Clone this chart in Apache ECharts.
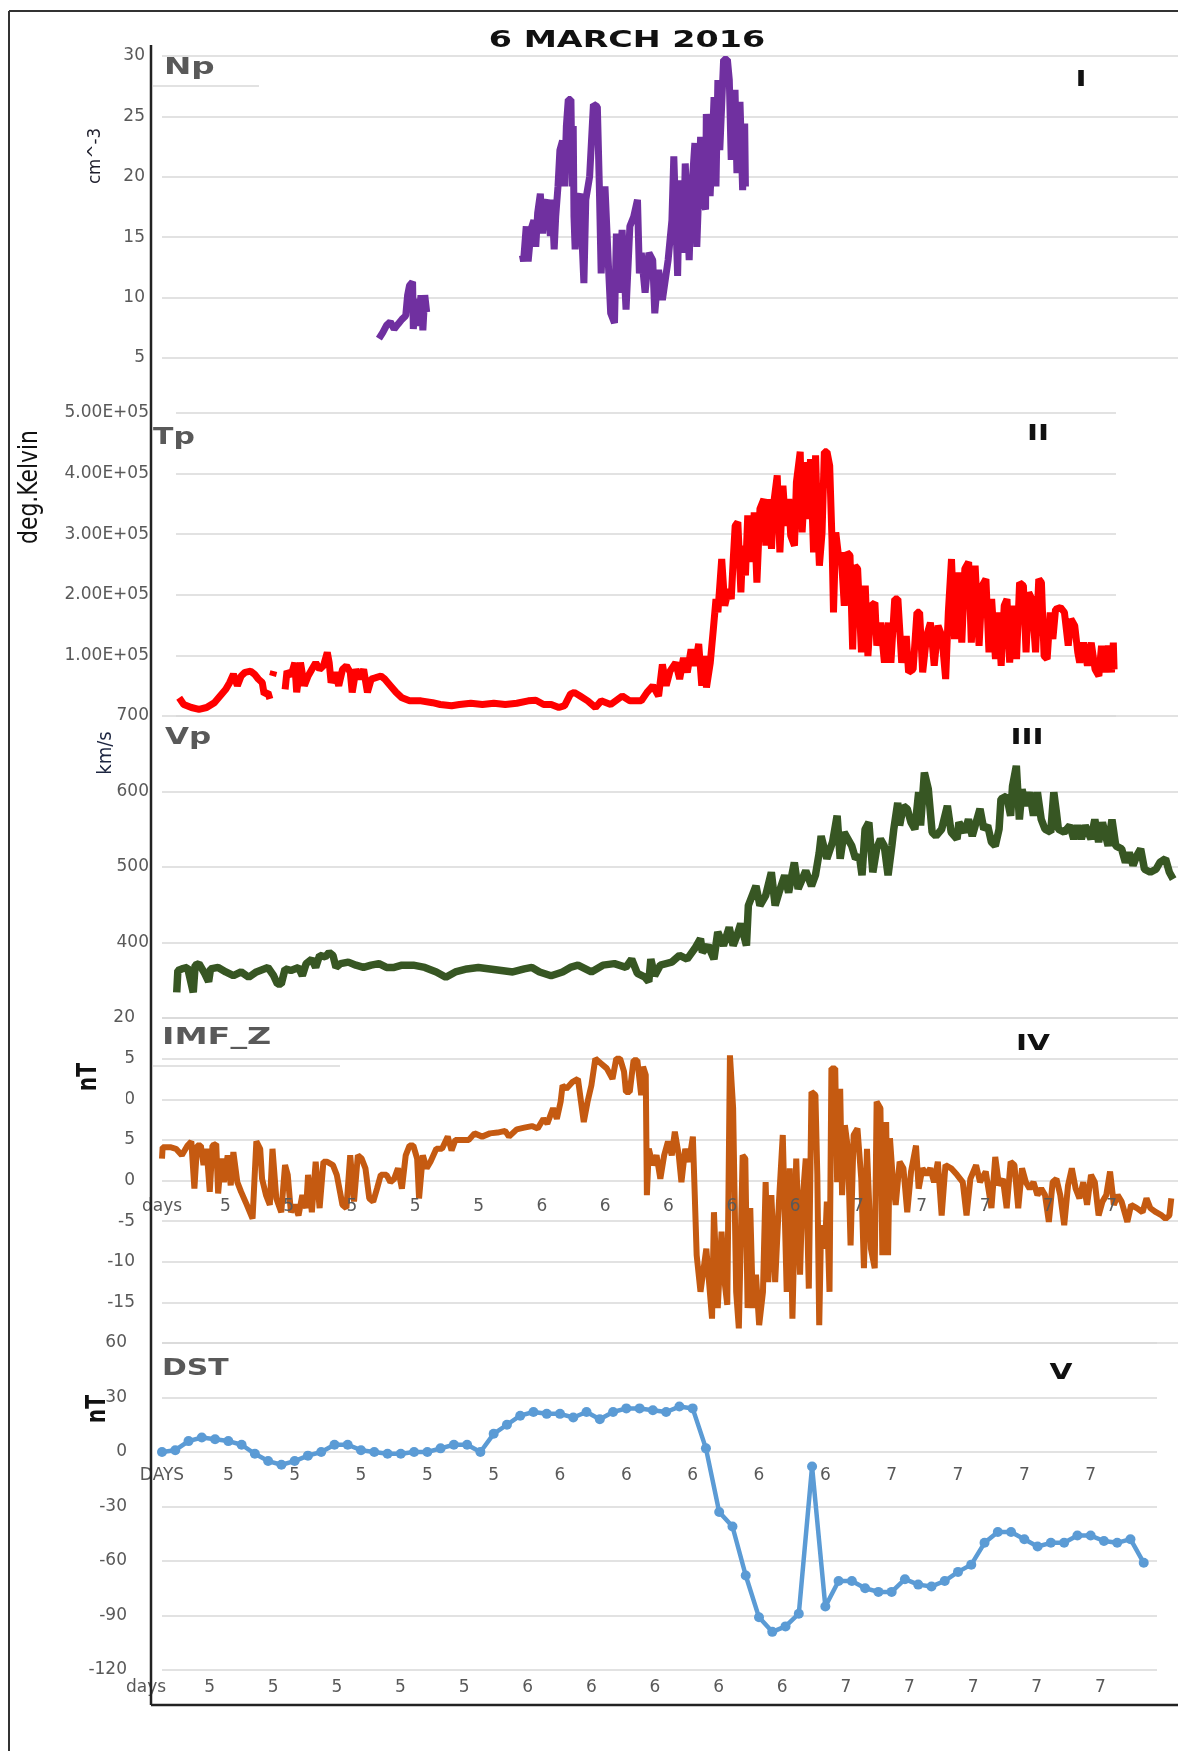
<!DOCTYPE html>
<html><head><meta charset="utf-8">
<script src="https://cdn.jsdelivr.net/npm/echarts@6/dist/echarts.min.js"></script>
<style>html,body{margin:0;padding:0;background:#fff}#c{width:1178px;height:1751px}</style>
</head><body><div id="c"></div>
<script>
// ---------- DATA (x = hours from panel origin, y = measured value) ----------
const chartTitle = '6 MARCH 2016';
const panelNames = ['Np', 'Tp', 'Vp', 'IMF_Z', 'DST'];
const panelNumerals = ['I', 'II', 'III', 'IV', 'V'];
const axisTitles = ['cm^-3', 'deg.Kelvin', 'km/s', 'nT', 'nT'];

// Np (cm^-3)
const npSeg1 = [[17.08,6.6],[17.38,7.1],[17.68,7.7],[17.98,8.0],[18.28,7.4],[18.58,7.8],[18.89,8.2],[19.19,8.5],[19.34,10.2],[19.49,11.0],[19.73,11.3],[19.79,7.4],[19.94,9.9],[20.09,7.7],[20.24,8.2],[20.39,10.2],[20.54,7.3],[20.69,10.2],[20.84,8.8]];
const npSeg2 = [[28.38,13.5],[28.47,13.0],[28.68,15.9],[28.83,13.0],[29.07,15.7],[29.28,16.4],[29.43,14.2],[29.58,17.0],[29.79,18.6],[29.97,15.3],[30.09,17.5],[30.33,18.1],[30.58,15.1],[30.7,18.1],[30.88,14.0],[31.0,16.7],[31.18,19.2],[31.33,22.2],[31.54,23.0],[31.69,19.2],[31.84,24.2],[31.99,26.4],[32.2,26.4],[32.29,19.2],[32.38,24.2],[32.44,16.7],[32.53,14.0],[32.75,18.1],[32.92,18.6],[33.22,11.2],[33.37,18.1],[33.67,20.0],[33.97,26.0],[34.28,25.8],[34.43,19.5],[34.58,12.0],[34.88,19.2],[35.18,12.0],[35.33,8.7],[35.63,7.9],[35.78,15.3],[35.93,10.4],[36.23,15.6],[36.54,9.0],[36.84,15.9],[37.14,16.7],[37.44,18.1],[37.59,12.0],[37.74,13.7],[38.04,10.4],[38.34,13.7],[38.64,13.1],[38.8,8.7],[39.1,12.3],[39.4,9.8],[39.85,13.1],[40.15,16.4],[40.3,21.7],[40.6,11.8],[40.75,19.7],[41.05,13.7],[41.2,21.1],[41.51,13.1],[41.66,18.1],[41.96,22.8],[42.11,14.2],[42.41,23.3],[42.56,18.1],[42.8,17.3],[42.86,25.2],[43.16,18.4],[43.47,26.6],[43.62,19.2],[43.77,28.0],[43.92,22.2],[44.22,29.7],[44.52,29.7],[44.67,28.0],[44.82,21.4],[45.12,27.2],[45.27,20.3],[45.51,26.2],[45.72,18.9],[45.88,24.4],[45.94,19.2]];

// Tp in units of 1e5 K ('-' = data gap)
const tpE5 = [[0.25,0.30],[0.61,0.19],[1.21,0.14],[1.81,0.11],[2.41,0.14],[3.02,0.22],[3.47,0.33],[3.92,0.44],[4.22,0.55],[4.52,0.69],[4.83,0.5],[5.13,0.66],[5.43,0.72],[5.88,0.74],[6.18,0.69],[6.48,0.61],[6.79,0.55],[6.94,0.36],[7.24,0.39],[7.39,0.28],[7.5,'-'],[7.6,0.66],[7.7,0.74],[8.0,'-'],[8.59,0.44],[8.74,0.74],[9.05,0.66],[9.35,0.88],[9.5,0.39],[9.8,0.88],[10.1,0.5],[10.4,0.66],[10.7,0.77],[11.0,0.88],[11.3,0.77],[11.61,0.83],[11.91,1.05],[12.06,0.88],[12.21,0.55],[12.51,0.72],[12.81,0.5],[13.11,0.77],[13.42,0.83],[13.72,0.72],[13.87,0.39],[14.17,0.77],[14.47,0.61],[14.77,0.77],[15.07,0.39],[15.37,0.61],[15.68,0.63],[16.13,0.66],[16.43,0.61],[16.88,0.5],[17.33,0.39],[17.79,0.30],[18.39,0.25],[19.29,0.25],[20.2,0.22],[20.8,0.19],[21.7,0.17],[22.31,0.19],[23.21,0.21],[24.12,0.19],[25.02,0.21],[25.92,0.19],[26.83,0.21],[27.73,0.25],[28.33,0.26],[28.94,0.19],[29.54,0.19],[30.14,0.14],[30.59,0.17],[31.05,0.36],[31.35,0.39],
[31.81,0.33],[32.41,0.25],[33.02,0.14],[33.47,0.25],[34.22,0.19],[35.13,0.33],[35.73,0.25],[36.63,0.25],[37.08,0.39],[37.54,0.5],[37.99,0.33],[38.29,0.85],[38.59,0.5],[38.89,0.74],[39.34,0.88],[39.65,0.61],[39.95,0.96],[40.25,0.72],[40.55,1.1],[40.85,0.83],[41.15,1.19],[41.39,0.5],[41.61,0.99],[41.76,0.47],[42.06,0.88],[42.3,1.43],[42.51,1.93],[42.66,1.71],[42.96,2.59],[43.2,1.82],[43.5,2.09],[43.71,1.93],[43.87,2.59],[44.02,3.14],[44.23,3.2],[44.47,2.04],[44.62,2.81],[44.83,2.32],[45.01,3.31],[45.31,2.54],[45.52,3.36],[45.73,2.2],[45.97,3.42],[46.28,3.58],[46.43,2.81],[46.58,3.58],[46.88,2.76],[47.03,3.47],[47.33,3.97],[47.54,2.7],[47.78,3.8],[47.99,3.14],[48.24,3.58],[48.39,2.98],[48.69,2.81],[48.84,3.86],[49.14,4.36],[49.29,3.03],[49.59,4.19],[49.74,3.25],[49.95,4.24],[50.19,2.7],[50.35,4.3],[50.5,3.25],[50.65,2.48],[50.86,3.03],[51.04,4.36],[51.25,4.36],[51.46,4.13],[51.64,2.92],[51.76,1.71],[51.94,3.03],[52.15,2.65],[52.36,2.7],[52.61,1.82],[52.82,2.7],[53.06,2.65],[53.27,1.1],[53.45,2.48],[53.66,2.43],[53.96,1.05],[54.26,2.15],[54.47,0.99],[54.72,1.82],[55.02,1.87],[55.17,1.16],[55.47,1.54],[55.77,0.88],[56.07,1.54],[56.28,0.88],[56.58,1.93],[56.83,1.93],[57.13,0.88],[57.49,1.32],[57.67,0.72],[58.03,0.77],[58.33,1.71],[58.54,1.71],[58.78,0.72],[59.09,1.32],[59.39,1.54],[59.69,0.83],[59.99,1.49],[60.29,1.32],[60.59,0.61],[60.8,1.71],[61.05,2.59],[61.29,1.27],[61.59,2.37],[61.86,1.21],[62.1,2.43],[62.4,2.54],[62.61,1.21],[62.91,2.48],[63.22,1.16],[63.46,2.15],[63.76,2.26],[64.0,1.05],[64.21,1.93],[64.51,0.94],[64.72,1.71],[64.96,0.83],[65.2,1.82],[65.42,1.93],[65.63,0.88],[65.87,1.82],[66.17,0.94],[66.41,2.2],[66.71,2.15],[66.92,1.05],[67.13,2.04],[67.37,1.93],[67.67,1.05],[67.92,2.26],[68.13,2.2],[68.34,0.99],[68.58,0.94],[68.82,1.71],[69.03,1.27],[69.24,1.76],[69.63,1.79],[69.94,1.71],[70.24,1.16],[70.45,1.6],[70.75,1.49],[70.99,1.05],[71.14,0.88],[71.44,1.21],[71.75,0.83],[72.05,1.21],[72.35,0.77],[72.65,0.66],[72.86,1.16],[73.16,0.72],[73.4,1.16],[73.64,0.72],[73.79,1.21],[73.85,0.77]];

// Vp (km/s)
const vp = [[1.16,334],[1.25,363],[1.56,365],[2.01,367],[2.46,334],[2.61,370],[2.91,372],[3.36,359],[3.67,348],[3.82,365],[4.42,367],[5.02,361],[5.62,356],[6.23,361],[6.83,354],[7.43,361],[8.34,367],[8.79,356],[9.09,345],[9.39,345],[9.69,365],[10.15,363],[10.75,367],[11.05,356],[11.35,372],[11.8,378],[12.1,367],[12.41,383],[12.86,381],[13.16,387],[13.46,383],[13.7,367],[14.06,372],[14.67,374],[15.27,370],[15.87,367],[16.47,370],[17.08,372],[17.68,367],[18.28,367],[18.89,370],[19.79,370],[20.69,367],[21.6,361],[22.35,354],[23.1,361],[24.01,365],[24.91,367],[25.82,365],[26.72,363],[27.62,361],[28.53,365],[29.13,367],[29.73,361],[30.64,356],[31.54,361],[32.15,367],[32.75,370],
[33.81,361],[34.72,370],[35.62,372],[36.53,367],[36.98,378],[37.43,359],[38.03,354],[38.33,348],[38.49,378],[38.79,356],[39.24,370],[40.14,374],[40.75,383],[41.35,378],[41.95,392],[42.4,405],[42.55,387],[43.01,396],[43.46,378],[43.76,414],[44.21,396],[44.66,420],[44.97,396],[45.27,409],[45.57,425],[46.02,396],[46.17,449],[46.77,475],[47.08,449],[47.53,462],[47.98,493],[48.28,449],[48.58,466],[49.03,489],[49.34,466],[49.64,493],[49.79,506],[50.09,471],[50.69,495],[51.14,475],[51.45,489],[51.75,519],[51.9,541],[52.35,511],[52.8,533],[53.16,568],[53.4,511],[53.71,546],[54.01,537],[54.31,528],[54.61,511],[54.91,515],[55.12,489],[55.36,550],[55.66,559],[55.97,493],[56.27,524],[56.57,537],[56.87,528],[57.17,489],[57.47,528],[57.62,550],[57.93,585],[58.08,555],[58.38,581],[58.68,577],[58.98,559],[59.28,550],[59.58,599],[59.73,555],[60.03,625],[60.34,603],[60.64,546],[60.94,541],[61.39,550],[61.84,581],[62.14,546],[62.6,537],[62.75,559],[63.2,546],[63.5,563],[63.8,541],[64.1,559],[64.41,577],[64.71,550],[65.01,555],[65.31,533],[65.61,528],[65.91,550],[66.06,590],[66.51,594],[66.82,568],[66.97,607],[67.27,634],[67.51,563],[67.72,603],[68.02,581],[68.32,599],[68.62,568],[68.93,599],[69.23,563],[69.53,550],[69.98,546],[70.22,599],[70.43,572],[70.58,550],[71.04,546],[71.49,555],[71.79,537],[72.09,555],[72.39,537],[72.69,555],[73.15,537],[73.45,563],[73.75,533],[74.05,559],[74.5,528],[74.8,563],[75.1,528],[75.56,524],[75.86,506],[76.16,519],[76.46,502],[76.76,515],[77.06,524],[77.36,497],[77.82,493],[78.27,497],[78.57,506],[79.02,511],[79.32,493],[79.62,484]];

// IMF Bz (nT)
const imfZ = [[0,2.7],[0.05,4.1],[0.2,3.9],[0.65,4.1],[1.1,3.9],[1.56,3.1],[2.01,4.3],[2.31,4.8],[2.55,-1.0],[2.76,4.3],[3.06,4.3],[3.27,1.9],[3.51,3.9],[3.76,-1.4],[3.97,4.3],[4.27,4.5],[4.42,-1.6],[4.66,2.7],[4.87,-0.2],[5.17,3.1],[5.41,-0.6],[5.62,3.5],[5.93,-0.2],[6.23,-1.4],[6.68,-3.0],[7.13,-4.7],[7.43,4.8],[7.73,3.9],[7.88,0.2],[8.19,-1.8],[8.49,-3.0],[8.7,3.9],[9.0,-2.2],[9.39,-3.9],[9.69,1.9],[9.9,0.7],[10.15,-3.9],[10.45,-3.0],[10.75,-4.3],[11.05,-1.8],[11.35,-3.4],[11.5,0.7],[11.8,-3.9],[12.1,2.3],[12.41,-3.4],[12.71,2.3],[13.01,2.3],[13.46,1.9],[13.76,0.7],[14.21,-3.0],[14.52,-3.4],[14.82,3.1],[15.12,-2.6],[15.42,3.1],[15.72,2.7],[16.02,1.5],[16.32,-2.2],[16.63,-2.6],[16.93,-1.0],[17.23,0.7],[17.68,0.7],[17.98,-0.2],[18.28,0.2],[18.58,1.5],[18.89,-1.0],[19.19,3.1],[19.49,4.3],[19.79,4.3],[20.09,2.7],[20.24,-2.2],[20.54,3.1],[20.84,1.5],[21.14,2.3],[21.6,3.9],[22.05,3.9],[22.5,5.4],[22.8,3.7],[23.1,5.0],[23.71,5.0],[24.16,5.0],[24.61,5.8],[25.21,5.4],[25.82,5.8],[26.42,5.9],[27.02,6.1],[27.32,5.4],[27.93,6.3],[28.53,6.5],[29.13,6.7],[29.58,6.4],[30.04,7.6],[30.34,7.0],[30.79,8.9],[31.09,7.6],[31.39,9.7],[31.54,11.7],[31.84,11.3],[32.3,12.1],[32.75,12.5],
[33.21,7.2],[33.51,9.7],[33.81,11.7],[34.12,15.0],[34.57,14.4],[35.02,13.8],[35.47,12.5],[35.77,15.0],[36.07,15.0],[36.38,13.4],[36.53,10.9],[36.83,10.9],[37.13,14.8],[37.43,14.8],[37.73,10.5],[37.88,14.0],[38.09,13.0],[38.18,-1.8],[38.33,3.9],[38.64,1.9],[38.94,3.1],[39.24,0.2],[39.54,3.1],[39.84,4.8],[40.14,3.1],[40.38,6.0],[40.69,3.1],[40.9,-0.2],[41.2,3.9],[41.5,2.3],[41.8,5.4],[41.95,-1.8],[42.1,-9.2],[42.4,-13.7],[42.86,-8.4],[43.31,-17.0],[43.46,-3.9],[43.76,-15.7],[44.06,-6.3],[44.3,-12.5],[44.51,-15.3],[44.72,15.4],[44.97,8.9],[45.21,-13.7],[45.42,-18.2],[45.72,3.1],[45.93,2.7],[46.11,-15.7],[46.32,-3.4],[46.53,-15.7],[46.77,-11.6],[47.02,-17.8],[47.32,-13.7],[47.53,-0.2],[47.74,-12.5],[47.98,-1.8],[48.28,-12.5],[48.58,-2.6],[48.88,5.6],[49.19,-13.7],[49.43,1.5],[49.64,-17.0],[49.94,2.7],[50.24,-11.6],[50.39,-3.4],[50.69,2.7],[50.93,-13.3],[51.14,10.9],[51.45,10.5],[51.6,0.7],[51.75,-17.8],[51.9,-5.5],[52.2,-8.4],[52.35,-2.6],[52.56,-13.7],[52.71,13.8],[53.01,13.8],[53.16,-0.2],[53.4,11.3],[53.55,-1.8],[53.77,6.8],[54.01,3.9],[54.22,-8.0],[54.46,5.6],[54.76,6.4],[55.06,0.2],[55.27,-10.8],[55.51,3.9],[55.82,-8.4],[56.12,-10.8],[56.27,9.7],[56.57,8.9],[56.72,-9.2],[57.02,7.2],[57.17,-9.2],[57.32,5.2],[57.56,-0.2],[57.77,-3.0],[58.08,2.3],[58.38,1.5],[58.68,-3.9],[58.98,1.1],[59.37,4.3],[59.58,-1.0],[59.88,1.5],[60.19,0.7],[60.49,1.5],[60.79,-0.2],[61.09,2.3],[61.39,-4.3],[61.69,1.9],[62.14,1.5],[62.6,0.7],[63.05,-0.2],[63.35,-4.3],[63.65,0.2],[64.1,1.9],[64.41,-0.2],[64.86,1.1],[65.31,-3.4],[65.61,2.9],[65.91,-0.6],[66.21,0.2],[66.51,-3.4],[66.82,2.3],[67.12,1.9],[67.42,-3.4],[67.72,1.5],[68.02,-0.2],[68.32,-1.0],[68.62,-0.2],[68.93,-1.8],[69.23,-1.0],[69.53,-1.8],[69.83,-5.1],[70.13,-0.2],[70.43,0.2],[70.73,-1.8],[71.04,-5.5],[71.34,-0.6],[71.64,1.5],[71.94,-1.0],[72.24,-2.2],[72.54,-0.2],[72.84,-3.0],[73.15,0.7],[73.45,-0.2],[73.75,-4.3],[74.05,-2.6],[74.35,-1.8],[74.65,1.1],[74.95,-3.0],[75.25,-1.8],[75.56,-2.6],[76.01,-5.1],[76.31,-3.0],[76.76,-3.4],[77.21,-3.9],[77.52,-2.2],[77.82,-3.4],[78.27,-3.9],[78.72,-4.3],[79.02,-4.7],[79.32,-4.3],[79.47,-2.2]];

// Dst hourly (nT)
const dstValues = [0,1,6,8,7,6,4,-1,-5,-7,-5,-2,0,4,4,1,0,-1,-1,0,0,2,4,4,0,10,15,20,22,21,21,19,22,18,22,24,24,23,22,25,24,2,-33,-41,-68,-91,-99,-96,-89,-8,-85,-71,-71,-75,-77,-77,-70,-73,-74,-71,-66,-62,-50,-44,-44,-48,-52,-50,-50,-46,-46,-49,-50,-48,-61];

// tick labels
const imfDayLabels = ['days','5','5','5','5','5','6','6','6','6','6','7','7','7','7','7'];
const dstTopLabels = ['DAYS','5','5','5','5','5','6','6','6','6','6','7','7','7','7'];
const bottomDayLabels = ['days','5','5','5','5','5','6','6','6','6','6','7','7','7','7','7'];

// ---------- CHART ----------
const FONT = 'DejaVu Sans';
const GREY = '#595959';
const GRIDC = '#D9D9D9';
const LABEL_FS = 17;

// panel geometry (px)
const P = {
  np:  { left: 162, right: 0,  top: 56,   height: 302 },
  tp:  { left: 176, right: 62, top: 413,  height: 303 },
  vp:  { left: 162, right: 0,  top: 716,  height: 302 },
  imf: { left: 162, right: 0,  top: 1018, height: 325 },
  dst: { left: 162, right: 21, top: 1343, height: 327 }
};
// y of the zero line inside IMF (-20..20) and DST (-120..60) panels
const imfZeroY = P.imf.top + P.imf.height * (20 / 40);
const dstZeroY = P.dst.top + P.dst.height * (60 / 180);

function yAx(gi, min, max, interval, margin, fmt) {
  return {
    type: 'value', gridIndex: gi, min, max, interval,
    axisLine: { show: false }, axisTick: { show: false },
    axisLabel: { margin, color: GREY, fontSize: LABEL_FS, fontFamily: FONT, formatter: fmt },
    splitLine: { lineStyle: { color: GRIDC, width: 1.5 } }
  };
}
function yHidden(gi) { return { type: 'value', gridIndex: gi, min: 0, max: 1, show: false }; }
function xHidden(gi, max) {
  return { type: 'value', gridIndex: gi, min: 0, max, show: false, splitLine: { show: false } };
}
function xLabelled(gi, max, labels, margin) {
  return {
    type: 'value', gridIndex: gi, min: 0, max, interval: 5, position: 'bottom', z: 10,
    axisLine: { show: false, onZero: false }, axisTick: { show: false },
    splitLine: { show: false },
    axisLabel: { margin, color: GREY, fontSize: LABEL_FS, fontFamily: FONT,
      formatter: v => { const k = Math.round(v / 5); return labels[k] !== undefined ? labels[k] : ''; } }
  };
}
function lineSeries(xi, data, color, width) {
  return { type: 'line', xAxisIndex: xi, yAxisIndex: xi, data, showSymbol: false,
    lineStyle: { color, width }, itemStyle: { color }, connectNulls: false, z: 3 };
}
function txt(text, x, y, opts) {
  return Object.assign({ type: 'text', x, y, z: 60,
    style: Object.assign({ text, fontFamily: FONT, align: 'center', verticalAlign: 'middle' }, opts.style || {}) },
    opts.el || {});
}
function ln(x1, y1, x2, y2, color, w) {
  return { type: 'line', z: 50, shape: { x1, y1, x2, y2 }, style: { stroke: color, lineWidth: w } };
}

const option = {
  animation: false,
  backgroundColor: '#ffffff',
  grid: [
    P.np, P.tp, P.vp, P.imf, P.dst,
    // label-only strips: bottom day axis, IMF zero-line labels, DST zero-line labels
    { left: 146, right: 14, top: 1640, height: 30 },
    { left: P.imf.left, right: P.imf.right, top: imfZeroY - 10, height: 10 },
    { left: P.dst.left, right: P.dst.right, top: dstZeroY - 10, height: 10 }
  ],
  xAxis: [
    xHidden(0, 80), xHidden(1, 74), xHidden(2, 80), xHidden(3, 80), xHidden(4, 75),
    xLabelled(5, 80, bottomDayLabels, 9),
    xLabelled(6, 80, imfDayLabels, 18),
    xLabelled(7, 75, dstTopLabels, 15)
  ],
  yAxis: [
    yAx(0, 5, 30, 5, 17, v => String(v)),
    yAx(1, 0, 5, 1, 27, v => v === 0 ? '' : v.toFixed(2) + 'E+05'),
    yAx(2, 300, 700, 100, 13, v => v === 300 ? '' : String(v)),
    yAx(3, -20, 20, 5, 27, v => v === -20 ? '' : String(v)),
    yAx(4, -120, 60, 30, 35, v => String(v)),
    yHidden(5), yHidden(6), yHidden(7)
  ],
  series: [
    lineSeries(0, npSeg1, '#7030A0', 7),
    lineSeries(0, npSeg2, '#7030A0', 7),
    lineSeries(1, tpE5, '#FF0000', 7),
    lineSeries(2, vp, '#375623', 7.5),
    lineSeries(3, imfZ, '#C55A11', 6),
    { type: 'line', xAxisIndex: 4, yAxisIndex: 4, data: dstValues.map((v, i) => [i, v]),
      symbol: 'circle', symbolSize: 10, showSymbol: true, showAllSymbol: true,
      lineStyle: { color: '#5B9BD5', width: 4.5 }, itemStyle: { color: '#5B9BD5' }, z: 3 }
  ],
  graphic: [
    // frames
    ln(9, 11, 9, 1751, '#333', 2),
    ln(9, 11, 1178, 11, '#333', 2),
    ln(151, 45, 151, 1705, '#222', 2.5),
    ln(151, 1705, 1178, 1705, '#222', 2.5),
    ln(153, 86, 259, 86, GRIDC, 1.5),
    ln(153, 1066, 340, 1066, GRIDC, 1.5),
    // cover of the partially hidden IMF tick labels (as in the reference)
    { type: 'rect', z: 100, shape: { x: 109, y: 1049, width: 17, height: 55 }, style: { fill: '#fff' } },
    // title
    txt(chartTitle, 627, 41, { style: { fontSize: 23, fontWeight: 'bold', fill: '#111' }, el: { scaleX: 1.45 } }),
    // panel names
    txt(panelNames[0], 164, 68, { style: { fontSize: 23, fontWeight: 'bold', fill: GREY, align: 'left' }, el: { scaleX: 1.42 } }),
    txt(panelNames[1], 153, 438, { style: { fontSize: 23, fontWeight: 'bold', fill: GREY, align: 'left' }, el: { scaleX: 1.3 } }),
    txt(panelNames[2], 165, 738, { style: { fontSize: 23, fontWeight: 'bold', fill: GREY, align: 'left' }, el: { scaleX: 1.35 } }),
    txt(panelNames[3], 162, 1038, { style: { fontSize: 23, fontWeight: 'bold', fill: GREY, align: 'left' }, el: { scaleX: 1.45 } }),
    txt(panelNames[4], 162, 1369, { style: { fontSize: 23, fontWeight: 'bold', fill: GREY, align: 'left' }, el: { scaleX: 1.3 } }),
    // numerals
    txt(panelNumerals[0], 1081, 80, { style: { fontSize: 22, fontWeight: 'bold', fill: '#111' }, el: { scaleX: 1.35 } }),
    txt(panelNumerals[1], 1038, 434, { style: { fontSize: 22, fontWeight: 'bold', fill: '#111' }, el: { scaleX: 1.35 } }),
    txt(panelNumerals[2], 1027, 738, { style: { fontSize: 22, fontWeight: 'bold', fill: '#111' }, el: { scaleX: 1.35 } }),
    txt(panelNumerals[3], 1033, 1044, { style: { fontSize: 22, fontWeight: 'bold', fill: '#111' }, el: { scaleX: 1.35 } }),
    txt(panelNumerals[4], 1061, 1373, { style: { fontSize: 22, fontWeight: 'bold', fill: '#111' }, el: { scaleX: 1.35 } }),
    // axis titles (rotated)
    txt(axisTitles[0], 95, 156, { style: { fontSize: 18, fill: '#1c1c2a' }, el: { rotation: Math.PI / 2, scaleX: 0.93 } }),
    txt(axisTitles[1], 30, 487, { style: { fontSize: 27, fill: '#111' }, el: { rotation: Math.PI / 2, scaleX: 0.81 } }),
    txt(axisTitles[2], 106, 753, { style: { fontSize: 19, fill: '#1c2540' }, el: { rotation: Math.PI / 2, scaleX: 0.95 } }),
    txt(axisTitles[3], 89, 1077, { style: { fontSize: 26, fontWeight: 'bold', fill: '#111' }, el: { rotation: Math.PI / 2, scaleX: 0.78 } }),
    txt(axisTitles[4], 98, 1409, { style: { fontSize: 26, fontWeight: 'bold', fill: '#111' }, el: { rotation: Math.PI / 2, scaleX: 0.78 } })
  ]
};

const chart = echarts.init(document.getElementById('c'), null, { renderer: 'canvas' });
chart.setOption(option);
</script>
</body></html>
